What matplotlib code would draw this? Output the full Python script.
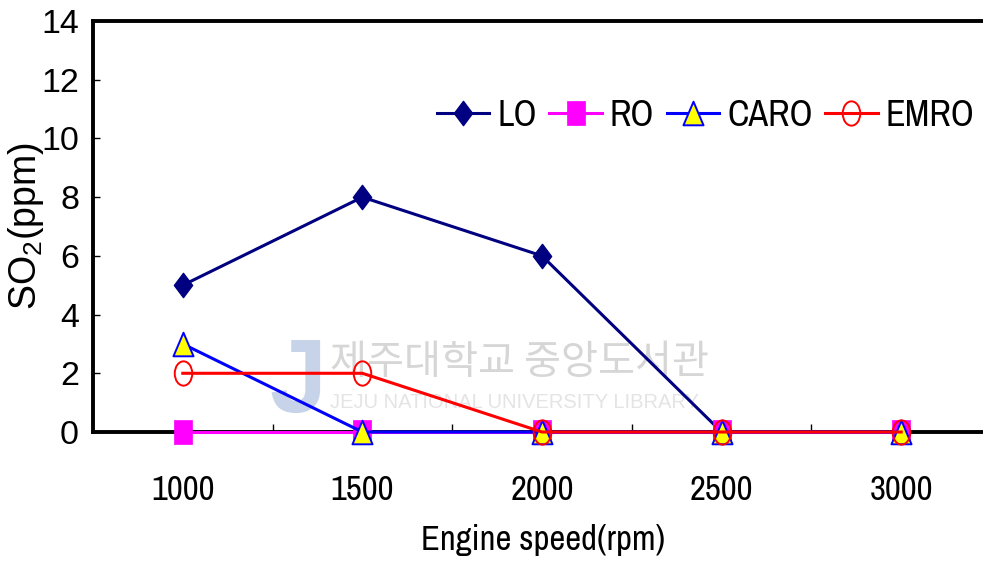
import numpy as np
import matplotlib
matplotlib.use('Agg')
import matplotlib.pyplot as plt
from matplotlib.path import Path
from matplotlib.transforms import Affine2D

NARROW = ['Liberation Sans Narrow', 'Arial Narrow', 'Archivo Narrow', 'Roboto Condensed',
          'PT Sans Narrow', 'IBM Plex Sans Condensed', 'Liberation Sans', 'DejaVu Sans']
plt.rcParams['font.family'] = NARROW
plt.rcParams['mathtext.fontset'] = 'custom'
plt.rcParams['mathtext.rm'] = 'Liberation Sans'

# SO2 concentration vs engine speed
speeds = ['1000', '1500', '2000', '2500', '3000']
lo = [5, 8, 6, 0, 0]
ro = [0, 0, 0, 0, 0]
caro = [3, 0, 0, 0, 0]
emro = [2, 2, 0, 0, 0]


def closed(pts):
    return Path(pts + [pts[0]], [Path.MOVETO] + [Path.LINETO] * (len(pts) - 1) + [Path.CLOSEPOLY])


# tall, narrow marker shapes
diamond = closed([(0, 1), (0.75, 0), (0, -1), (-0.75, 0)])
rect = closed([(-0.78, -1), (0.78, -1), (0.78, 1), (-0.78, 1)])
triangle = closed([(0, 1), (-0.85, -1), (0.85, -1)])
ellipse = Path.unit_circle().transformed(Affine2D().scale(0.72, 1.0))

fig = plt.figure(figsize=(9.83, 5.62), dpi=100)
ax = fig.add_axes([93 / 983, 1 - 432 / 562, 898 / 983, 411 / 562])

x = np.arange(len(speeds))

# library watermark
ax.text(0.82, 2.38, '제주대학교 중앙도서관', family=['Noto Sans CJK KR'], fontsize=29,
        color='#d6d6d6', ha='left', va='center', zorder=0)
ax.text(0.82, 1.0, 'JEJU NATIONAL UNIVERSITY LIBRARY', family=['Liberation Sans'], fontsize=14.5,
        color='#e4e4e4', ha='left', va='center', zorder=0)
ax.text(0.64, 1.6, 'J', family=['Liberation Sans'], fontsize=74, fontweight='bold',
        color='#c6d3e8', ha='center', va='center', zorder=0)

ms = 17.5
ax.plot(x, lo, color='#000080', lw=2.2, marker=diamond, ms=ms, mfc='#000080', mec='#000080',
        label='LO', zorder=3, clip_on=False)
ax.plot(x, ro, color='#FF00FF', lw=2.2, marker=rect, ms=ms, mfc='#FF00FF', mec='#FF00FF',
        mew=0.5, label='RO', zorder=4, clip_on=False)
ax.plot(x, caro, color='#0000FF', lw=2.2, marker=triangle, ms=ms - 0.5, mfc='#FFFF00', mec='#0000FF',
        mew=1.4, label='CARO', zorder=5, clip_on=False)
ax.plot(x, emro, color='#FF0000', lw=2.2, marker=ellipse, ms=ms, mfc='none', mec='#FF0000',
        mew=1.4, label='EMRO', zorder=6, clip_on=False)

ax.set_xlim(-0.5, 4.5)
ax.set_ylim(0, 14)
ax.set_yticks(np.arange(0, 15, 2))
ax.set_xticks(x)
ax.set_xticklabels(speeds)
ax.set_xticks(np.arange(0.5, 4, 1), minor=True)

ax.tick_params(axis='x', which='major', length=0, pad=30, labelsize=25)
ax.tick_params(axis='x', which='minor', direction='in', length=6, width=1)
ax.tick_params(axis='y', direction='in', length=5, width=1, pad=10, labelsize=24.5)
for lab in ax.get_yticklabels():
    lab.set_family(['Liberation Sans'])

for side in ['left', 'top', 'bottom']:
    ax.spines[side].set_linewidth(2.8)
ax.spines['right'].set_visible(False)

ax.set_ylabel('SO$_{2}$(ppm)', fontsize=27, family=['Liberation Sans'])
ax.yaxis.set_label_coords(-0.052, 0.5)
ax.set_xlabel('Engine speed(rpm)', fontsize=25)
ax.xaxis.set_label_coords(0.501, -0.225)

ax.legend(loc='center left', bbox_to_anchor=(437 / 983, 1 - 115 / 562), bbox_transform=fig.transFigure,
          ncol=4, frameon=False, fontsize=26, handlelength=1.45, handletextpad=0.22,
          columnspacing=0.35, borderpad=0, borderaxespad=0)

fig.savefig('out.png', dpi=100, facecolor='white')
